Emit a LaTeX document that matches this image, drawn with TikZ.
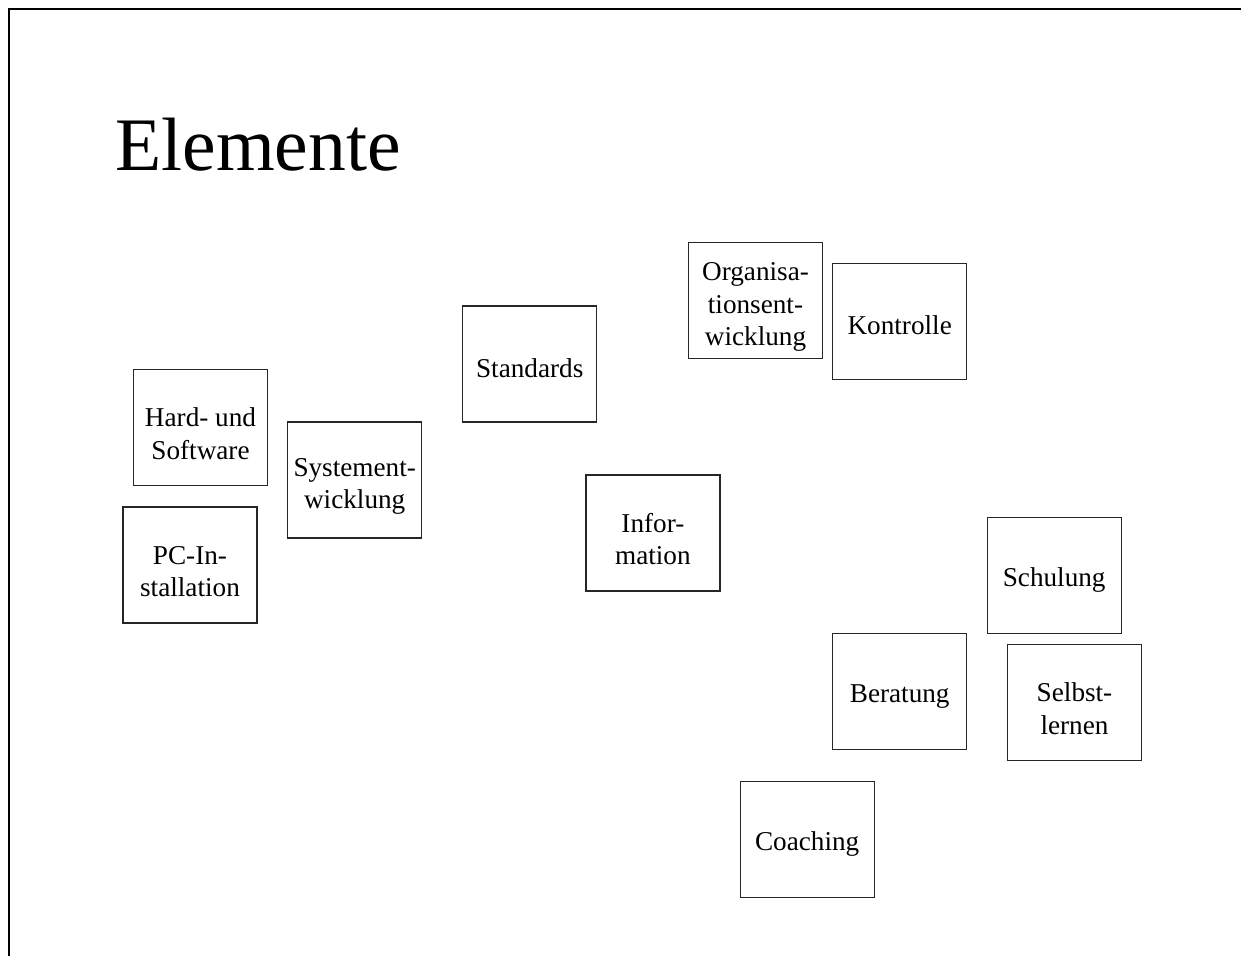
\documentclass[tikz,border=0pt]{standalone}
\usepackage{fontspec}
\setmainfont{Liberation Serif}
% invisible struts that set the first line a little lower in each card
\newcommand\cardone{\rule{0pt}{13.5pt}}
\newcommand\cardmany{\rule{0pt}{15.5pt}}
\begin{document}
\begin{tikzpicture}[x=0.5pt,y=-0.5pt,
  card/.style={draw=black!85, line width=0.65pt, minimum width=67pt, minimum height=58pt,
    inner sep=0pt, align=center, font=\fontsize{13.6}{16.25}\selectfont},
  frameline/.style={line width=1pt, line cap=rect},
  heading/.style={anchor=base west, inner sep=0pt, font=\fontsize{37.8}{45}\selectfont}]
\useasboundingbox (0,0) rectangle (1241,955);
% slide frame (top and left edges)
\coordinate (fr) at (1241,9);
\coordinate (fc) at (9,9);
\coordinate (fb) at (9,955);
\draw[frameline] (fr) -- (fc) -- (fb);
% heading
\node[heading] (title) at (115,170.7) {Elemente};
% element cards
\node[card] (org)  at (755.5,300.5) {\cardmany Organisa-\\tionsent-\\wicklung};
\node[card] (kon)  at (899.7,321.3) {\cardone Kontrolle};
\node[card] (hw)   at (200.5,427.5) {\cardmany Hard- und\\Software};
\node[card] (sys)  at (354.7,480)   {\cardmany System\-ent-\\wicklung};
\node[card] (pc)   at (190,565)     {\cardmany PC-In-\\stallation};
\node[card] (std)  at (529.7,364)   {\cardone Standards};
\node[card] (inf)  at (652.9,533)   {\cardmany Infor-\\mation};
\node[card] (sch)  at (1054.2,575.5) {\cardone Schulung};
\node[card] (ber)  at (899.7,691.7) {\cardone Beratung};
\node[card] (sel)  at (1074.5,702.7) {\cardmany Selbst-\\lernen};
\node[card] (coa)  at (807.2,839.7) {\cardone Coaching};
\end{tikzpicture}
\end{document}
